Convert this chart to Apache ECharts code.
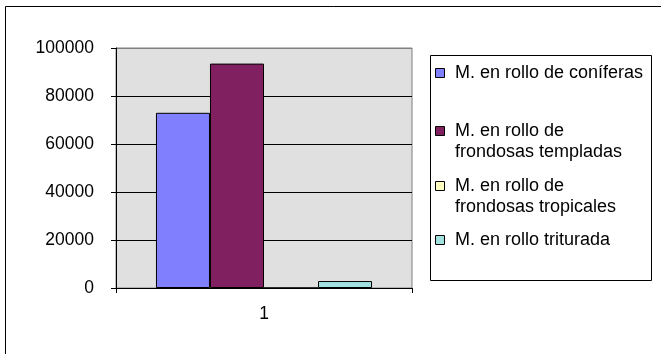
<!DOCTYPE html>
<html>
<head>
<meta charset="utf-8">
<script src="https://cdn.jsdelivr.net/npm/echarts@6/dist/echarts.min.js"></script>
<style>
html,body{margin:0;padding:0;background:#fff;}
#chart{width:661px;height:354px;}
</style>
</head>
<body>
<div id="chart"></div>
<script>
// ---- data ----
var categories = ['1'];
var seriesNames = [
  'M. en rollo de coníferas',
  'M. en rollo de\nfrondosas templadas',
  'M. en rollo de\nfrondosas tropicales',
  'M. en rollo triturada'
];
var coniferas = [73000];
var templadas = [93500];
var tropicales = [0];
var triturada = [2900];
var seriesValues = [coniferas, templadas, tropicales, triturada];
var seriesColors = ['#8080FF', '#802060', '#FFFFC0', '#A0E0E0'];
var yTicks = [0, 20000, 40000, 60000, 80000, 100000];

// ---- chart ----
var chart = echarts.init(document.getElementById('chart'), null, {renderer: 'canvas'});
var FONT = '"Liberation Sans", Arial, sans-serif';

var legendItemY = [73, 131, 186, 240]; // centre of first text line
var LINE_H = 21;
var legendGraphics = [
  {type: 'rect', shape: {x: 5.5, y: 6.5, width: 700, height: 400},
   style: {fill: 'none', stroke: '#000', lineWidth: 1}, silent: true, z: -1},
  {type: 'rect', shape: {x: 430.5, y: 55.5, width: 221, height: 225},
   style: {fill: '#fff', stroke: '#000', lineWidth: 1}, silent: true}
];
seriesNames.forEach(function (name, i) {
  legendGraphics.push({
    type: 'rect', shape: {x: 435.5, y: legendItemY[i] - 4.5, width: 9, height: 9},
    style: {fill: seriesColors[i], stroke: '#000', lineWidth: 1}, silent: true, z: 10
  });
  legendGraphics.push({
    type: 'text', x: 455, y: legendItemY[i] - LINE_H / 2,
    style: {text: name, fill: '#000', fontSize: 18, fontFamily: FONT, lineHeight: LINE_H, verticalAlign: 'top'},
    silent: true, z: 10
  });
});

var option = {
  animation: false,
  backgroundColor: '#fff',
  textStyle: {fontFamily: FONT},
  graphic: legendGraphics,
  grid: {
    left: 116, right: 249, top: 48, bottom: 66,
    show: true, backgroundColor: '#E0E0E0', borderColor: '#808080', borderWidth: 1
  },
  xAxis: {
    type: 'category',
    data: categories,
    axisLine: {lineStyle: {color: '#000', width: 1}},
    axisTick: {show: true, length: 5, lineStyle: {color: '#000'}},
    axisLabel: {fontSize: 17.5, color: '#000', margin: 17, fontFamily: FONT}
  },
  yAxis: {
    type: 'value',
    min: yTicks[0], max: yTicks[yTicks.length - 1], interval: yTicks[1] - yTicks[0],
    axisLine: {show: true, lineStyle: {color: '#000', width: 1}},
    axisTick: {show: true, length: 5, lineStyle: {color: '#000'}},
    axisLabel: {fontSize: 17.5, color: '#000', margin: 22, fontFamily: FONT,
      formatter: function (v) { return String(v); }},
    splitLine: {show: true, lineStyle: {color: ['#000', '#000', '#000', '#000', '#000', '#808080'], width: 1}}
  },
  series: seriesNames.map(function (name, i) {
    return {
      type: 'bar',
      name: name,
      data: seriesValues[i],
      barGap: '0%',
      barCategoryGap: '27%',
      itemStyle: {color: seriesColors[i], borderColor: '#000', borderWidth: 1}
    };
  })
};
chart.setOption(option);
</script>
</body>
</html>
